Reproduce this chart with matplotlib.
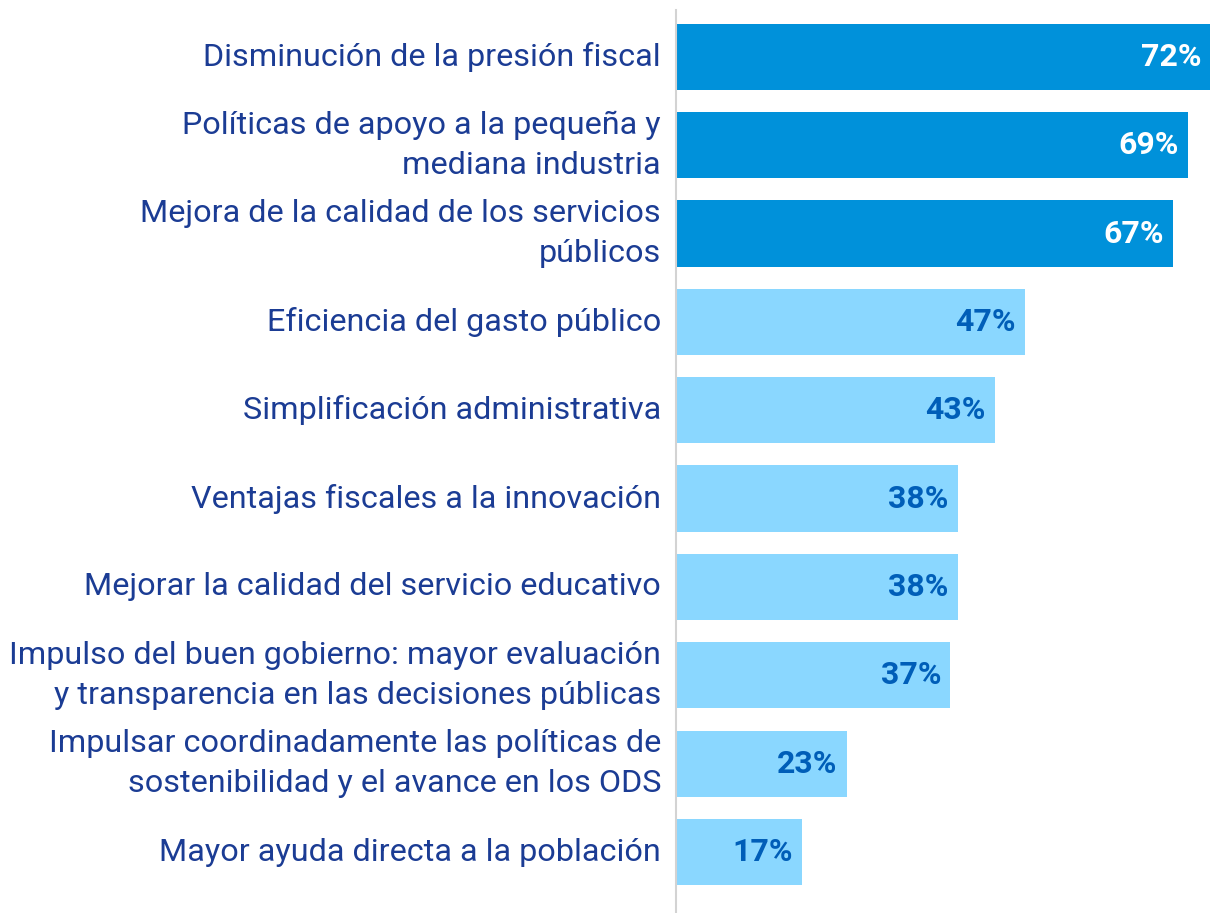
import matplotlib.pyplot as plt
from matplotlib.transforms import offset_copy

plt.rcParams['font.family'] = ['Roboto', 'DejaVu Sans']

categories = [
    'Disminución de la presión fiscal',
    'Políticas de apoyo a la pequeña y\nmediana industria',
    'Mejora de la calidad de los servicios\npúblicos',
    'Eficiencia del gasto público',
    'Simplificación administrativa',
    'Ventajas fiscales a la innovación',
    'Mejorar la calidad del servicio educativo',
    'Impulso del buen gobierno: mayor evaluación\ny transparencia en las decisiones públicas',
    'Impulsar coordinadamente las políticas de\nsostenibilidad y el avance en los ODS',
    'Mayor ayuda directa a la población',
]
values = [72, 69, 67, 47, 43, 38, 38, 37, 23, 17]
highlight = [True, True, True, False, False, False, False, False, False, False]

dark = '#0091DA'
light = '#8AD7FF'
label_color = '#1B3C94'

fig = plt.figure(figsize=(12.1, 9.13), dpi=100)
ax = fig.add_axes([0.5587, 0.0, 0.4413, 0.989])

ypos = list(range(len(values)))
colors = [dark if h else light for h in highlight]
ax.barh(ypos, values, height=0.75, color=colors)

ax.set_xlim(0, 72)
ax.set_ylim(9.69, -0.53)

for y, v, h in zip(ypos, values, highlight):
    tr = offset_copy(ax.transData, fig=fig, x=-9, y=0, units='dots')
    ax.text(v, y, f'{v}%', transform=tr, ha='right', va='center',
            fontsize=23, fontweight='bold',
            color='white' if h else '#005EB8')

for y, c in zip(ypos, categories):
    tr = offset_copy(ax.get_yaxis_transform(), fig=fig, x=-15, y=0, units='dots')
    ax.text(0, y, c, transform=tr, ha='right', va='center', fontsize=23.3,
            color=label_color, multialignment='right', linespacing=1.5)

ax.set_xticks([])
ax.set_yticks([])
for s in ['top', 'right', 'bottom']:
    ax.spines[s].set_visible(False)
ax.spines['left'].set_color('#D3D3D3')
ax.spines['left'].set_linewidth(1.5)

fig.savefig('out.png', dpi=100)
